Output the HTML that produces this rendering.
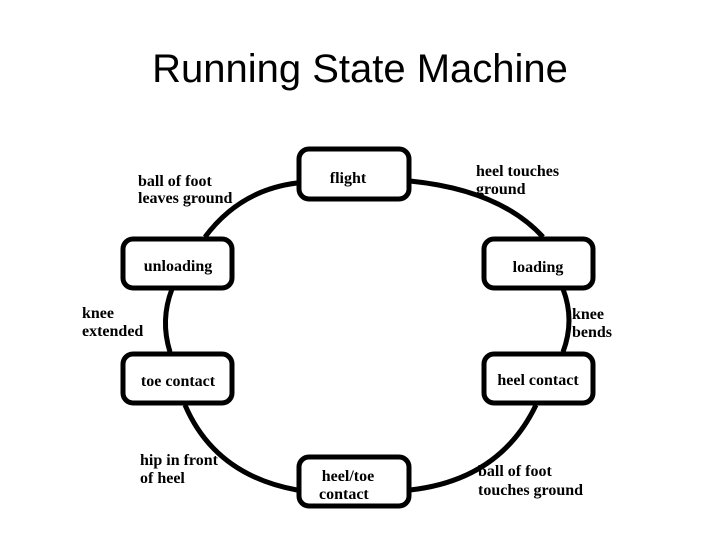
<!DOCTYPE html>
<html><head><style>
body{margin:0;background:#fff;}
svg text{font-family:"Liberation Serif",serif;font-weight:bold;font-size:16px;fill:#000;}
</style></head><body>
<svg width="720" height="540" viewBox="0 0 720 540" xmlns="http://www.w3.org/2000/svg">
<text x="360" y="82" text-anchor="middle" style="font-family:'Liberation Sans',sans-serif;font-weight:normal;font-size:40px">Running State Machine</text>
<g fill="none" stroke="#000" stroke-width="5">
<path d="M410,181 Q500,190 543,237"/>
<path d="M563,289 Q575,320 563,352"/>
<path d="M536,405 Q500,480 410,490"/>
<path d="M297,490 Q215,475 185,405"/>
<path d="M170,352 Q160,320 172,289"/>
<path d="M205,237 Q240,190 297,183"/>
</g>
<g fill="#fff" stroke="#000" stroke-width="5">
<rect x="299" y="149" width="110" height="50" rx="10"/>
<rect x="484" y="239" width="109" height="49" rx="10"/>
<rect x="484" y="354" width="109" height="49" rx="10"/>
<rect x="299" y="457" width="110" height="49" rx="10"/>
<rect x="123" y="354" width="109" height="49" rx="10"/>
<rect x="123" y="239" width="109" height="49" rx="10"/>
</g>
<text x="348" y="183" text-anchor="middle">flight</text>
<text x="538" y="272" text-anchor="middle">loading</text>
<text x="538" y="385" text-anchor="middle">heel contact</text>
<text x="348" y="481" text-anchor="middle">heel/toe</text>
<text x="348" y="499" text-anchor="start" dx="-29">contact</text>
<text x="178" y="386" text-anchor="middle">toe contact</text>
<text x="178" y="271" text-anchor="middle">unloading</text>
<text x="138" y="186">ball of foot</text>
<text x="138" y="203">leaves ground</text>
<text x="476" y="176">heel touches</text>
<text x="476" y="194">ground</text>
<text x="572" y="319">knee</text>
<text x="572" y="337">bends</text>
<text x="82" y="318">knee</text>
<text x="82" y="336">extended</text>
<text x="140" y="465">hip in front</text>
<text x="140" y="483">of heel</text>
<text x="478" y="476">ball of foot</text>
<text x="478" y="495">touches ground</text>
</svg>
</body></html>
